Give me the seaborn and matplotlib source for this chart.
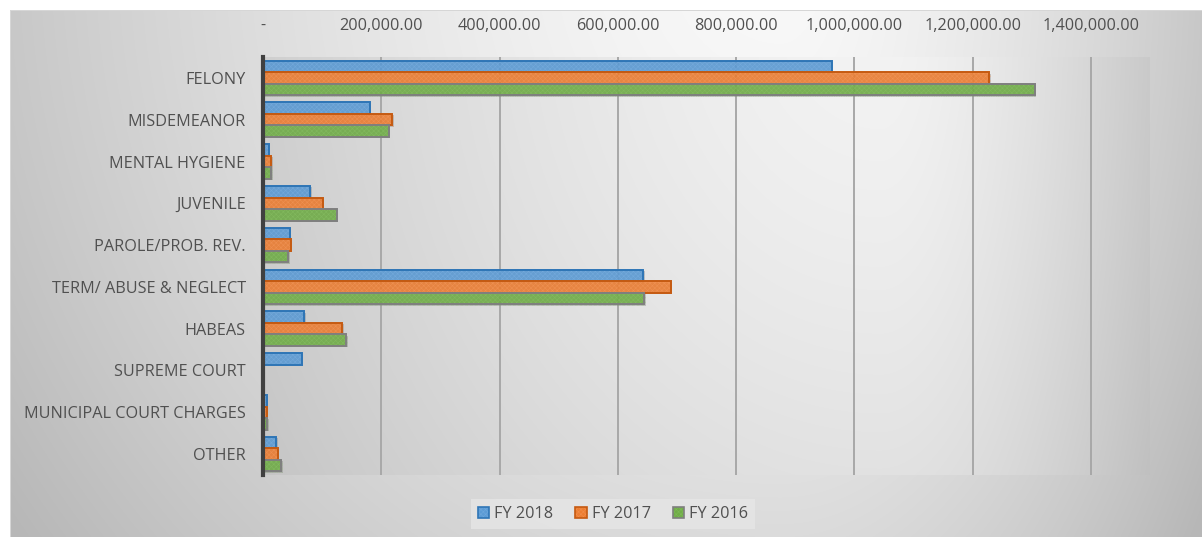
import numpy as np
import pandas as pd
import matplotlib
matplotlib.use("Agg")
import matplotlib.pyplot as plt
import matplotlib.patheffects as pe
from matplotlib.colors import to_rgba
from matplotlib.patches import Patch
from matplotlib.ticker import FuncFormatter, FixedLocator
import seaborn as sns

# ---- data -------------------------------------------------------------
categories = ["FELONY", "MISDEMEANOR", "MENTAL HYGIENE", "JUVENILE",
              "PAROLE/PROB. REV.", "TERM/ ABUSE & NEGLECT", "HABEAS",
              "SUPREME COURT", "MUNICIPAL COURT CHARGES", "OTHER"]
years = ["FY 2018", "FY 2017", "FY 2016"]
fy2018 = [962000, 181000, 9600, 80000, 45000, 643000, 70000, 66000, 6000, 22600]
fy2017 = [1228000, 218500, 14000, 101000, 47000, 690000, 134000, 0, 6000, 25000]
fy2016 = [1305000, 213000, 14000, 125000, 43000, 645000, 141000, 0, 7000, 31000]
x_ticks = [0, 200000, 400000, 600000, 800000, 1000000, 1200000, 1400000]

df = pd.DataFrame({
    "category": categories * 3,
    "year": [years[0]] * len(categories) + [years[1]] * len(categories) + [years[2]] * len(categories),
    "value": fy2018 + fy2017 + fy2016,
})

# ---- style ------------------------------------------------------------
sns.set_style("white")
plt.rcParams["font.family"] = ["Open Sans", "DejaVu Sans"]
plt.rcParams["hatch.linewidth"] = 0.4

fills = ["#5b9bd5", "#ed7d31", "#70ad47"]
edges = ["#2e75b6", "#c55a11", "#7f7f7f"]
hatch_cols = ["#8ab9e6", "#f6a570", "#93c872"]
text_col = "#505050"
fsize = 11.7

W, H, DPI = 1202, 537, 100
fig = plt.figure(figsize=(W / DPI, H / DPI), dpi=DPI, facecolor="white")

# ---- gradient backgrounds (chart area and plot area) ------------------
yy, xx = np.mgrid[0:H, 0:W].astype(float)


def soft_gradient(cx, cy, sl, sr, sy, top, k):
    dx = np.where(xx < cx, (cx - xx) / sl, (xx - cx) / sr)
    dy = (yy - cy) / sy
    d = np.sqrt(dx ** 2 + 0.6 * dy ** 2)
    return np.clip(top - k * d ** 1.5, 0.72, 1.0)


bg = soft_gradient(780, -40, 770, 420, 620, 0.975, 0.19)
px0, px1, py0, py1 = 263, 1150, 57, 475
inner = soft_gradient(880, 0, 680, 270, 650, 0.955, 0.165)
mask_plot = (xx >= px0) & (xx < px1) & (yy >= py0) & (yy < py1)
bg = np.where(mask_plot, inner, bg)
outside = (xx < 10) | (yy < 10)
bg = np.where(outside, 1.0, bg)
border = ((yy >= 10) & (yy < 11) & (xx >= 10)) | ((xx >= 10) & (xx < 11) & (yy >= 10))
bg = np.where(border, 0.84, bg)

bax = fig.add_axes([0, 0, 1, 1], zorder=-10)
bax.imshow(np.dstack([bg, bg, bg]), extent=(0, W, H, 0), aspect="auto",
           interpolation="bilinear")
bax.set_axis_off()

# ---- bars -------------------------------------------------------------
ax = fig.add_axes([px0 / W, 1 - py1 / H, (px1 - px0) / W, (py1 - py0) / H])
ax.patch.set_alpha(0)

sns.barplot(data=df, y="category", x="value", hue="year", order=categories,
            hue_order=years, palette=fills, orient="h", width=0.83,
            saturation=1, ax=ax, legend=False, zorder=3)

shadow = [pe.SimplePatchShadow(offset=(1.0, -1.0), shadow_rgbFace="#7a7a7a", alpha=0.35),
          pe.Normal()]
for i, cont in enumerate(ax.containers):
    for bar in cont:
        bar.set_facecolor(to_rgba(fills[i], 0.88))
        bar.set_edgecolor(edges[i])
        bar.set_linewidth(1.4)
        bar.set_hatch("xxxxxxx")
        bar._hatch_color = to_rgba(hatch_cols[i], 0.4)
        bar.set_path_effects(shadow)
        if bar.get_width() == 0:
            bar.set_visible(False)

# ---- axes -------------------------------------------------------------
ax.set_xlim(0, 1500000)
ax.set_ylim(len(categories) - 0.5, -0.5)
ax.xaxis.set_major_locator(FixedLocator(x_ticks))
ax.xaxis.set_major_formatter(FuncFormatter(lambda v, p: "-" if v == 0 else f"{v:,.2f}"))
ax.xaxis.tick_top()
ax.grid(axis="x", color="#a8a8a8", linewidth=1.4, zorder=1)
ax.set_axisbelow(True)
ax.tick_params(axis="x", length=0, pad=16.5, labelsize=fsize, labelcolor=text_col)
ax.tick_params(axis="y", length=0, pad=12.5, labelsize=fsize, labelcolor=text_col)
ax.set_xlabel("")
ax.set_ylabel("")
for s in ["top", "right", "bottom"]:
    ax.spines[s].set_visible(False)
ax.spines["left"].set_color("#404040")
ax.spines["left"].set_linewidth(3.0)
ax.spines["left"].set_zorder(5)

# ---- legend -----------------------------------------------------------
handles = []
for i, yr in enumerate(years):
    h = Patch(facecolor=fills[i], edgecolor=edges[i], linewidth=1.2,
              hatch="xxxxxxx", label=yr)
    h._hatch_color = to_rgba(hatch_cols[i], 0.4)
    handles.append(h)
leg = fig.legend(handles=handles, loc="center", bbox_to_anchor=(613 / W, 1 - 514 / H),
                 ncol=3, frameon=True, fontsize=fsize, handlelength=0.7,
                 handleheight=0.7, handletextpad=0.3, columnspacing=1.35,
                 borderpad=0.45, fancybox=False)
leg.get_frame().set_facecolor("#e6e6e6")
leg.get_frame().set_edgecolor("none")
leg.get_frame().set_alpha(0.8)
for t in leg.get_texts():
    t.set_color(text_col)

fig.savefig("out.png", dpi=DPI, facecolor="white")
